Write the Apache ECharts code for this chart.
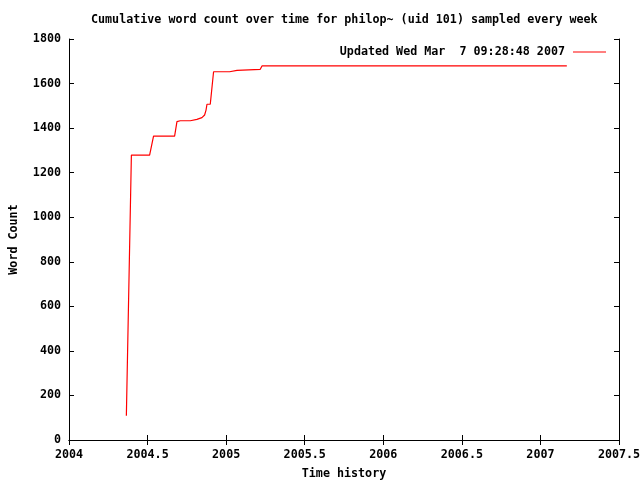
<!DOCTYPE html>
<html><head><meta charset="utf-8">
<script src="https://cdn.jsdelivr.net/npm/echarts@6/dist/echarts.min.js"></script>
<style>html,body{margin:0;padding:0;background:#fff}#c{width:640px;height:480px}</style>
</head><body><div id="c"></div>
<script>
var titleText = 'Cumulative word count over time for philop~ (uid 101) sampled every week';
var seriesName = 'Updated Wed Mar  7 09:28:48 2007';
var xName = 'Time history';
var yName = 'Word Count';
var years = [2004.365, 2004.397, 2004.513, 2004.538, 2004.672, 2004.687, 2004.708, 2004.772, 2004.776, 2004.814, 2004.818, 2004.846, 2004.863, 2004.872, 2004.878, 2004.899, 2004.920, 2005.022, 2005.026, 2005.069, 2005.072, 2005.217, 2005.228, 2007.168];
var counts = [109, 1279, 1279, 1364, 1364, 1429, 1433, 1433, 1439, 1439, 1447, 1447, 1459, 1481, 1507, 1507, 1653, 1653, 1659, 1659, 1664, 1664, 1679, 1679];

var FONT = '"DejaVu Sans Mono", "Liberation Mono", monospace';
var txt = {fontFamily: FONT, fontWeight: 'bold', fontSize: 11.7, color: '#000'};
var data = years.map(function (y, i) { return [y, counts[i]]; });
var black = {color: '#000', width: 1};
function plain(v) { return String(v); }

var chart = echarts.init(document.getElementById('c'), null, {renderer: 'canvas'});
chart.setOption({
  animation: false,
  backgroundColor: '#fff',
  title: {text: titleText, left: 91, top: 14, padding: 0, textStyle: txt},
  legend: {
    right: 29, top: 41, align: 'right', itemWidth: 33, itemHeight: 14, itemGap: 0,
    data: [{name: seriesName, icon: 'path://M0,7L33,7L33,8L0,8Z'}],
    textStyle: Object.assign({padding: [0, 3, 0, 0]}, txt)
  },
  grid: {left: 69, right: 21, top: 39, bottom: 40, outerBoundsMode: 'none', containLabel: false},
  xAxis: [{
    type: 'value', min: 2004, max: 2007.5, interval: 0.5, position: 'bottom',
    name: xName, nameLocation: 'middle', nameGap: 27.5, nameTextStyle: txt,
    axisLine: {show: true, lineStyle: black},
    axisTick: {show: true, inside: true, length: 5, lineStyle: black},
    splitLine: {show: false},
    axisLabel: Object.assign({margin: 9, formatter: plain}, txt)
  }, {
    type: 'value', min: 2004, max: 2007.5, interval: 0.5, position: 'top',
    axisLine: {show: true, lineStyle: black},
    axisTick: {show: true, inside: true, length: 5, lineStyle: black},
    splitLine: {show: false}, axisLabel: {show: false}
  }],
  yAxis: [{
    type: 'value', min: 0, max: 1800, interval: 200, position: 'left',
    name: yName, nameLocation: 'middle', nameGap: 49, nameTextStyle: txt,
    axisLine: {show: true, lineStyle: black},
    axisTick: {show: true, inside: true, length: 5, lineStyle: black},
    splitLine: {show: false},
    axisLabel: Object.assign({margin: 8, formatter: plain}, txt)
  }, {
    type: 'value', min: 0, max: 1800, interval: 200, position: 'right',
    axisLine: {show: true, lineStyle: black},
    axisTick: {show: true, inside: true, length: 5, lineStyle: black},
    splitLine: {show: false}, axisLabel: {show: false}
  }],
  series: [{
    name: seriesName, type: 'line', data: data, showSymbol: false, symbol: 'none',
    lineStyle: {color: '#ff0000', width: 1.2}, itemStyle: {color: '#ff0000'}
  }]
});
</script></body></html>
